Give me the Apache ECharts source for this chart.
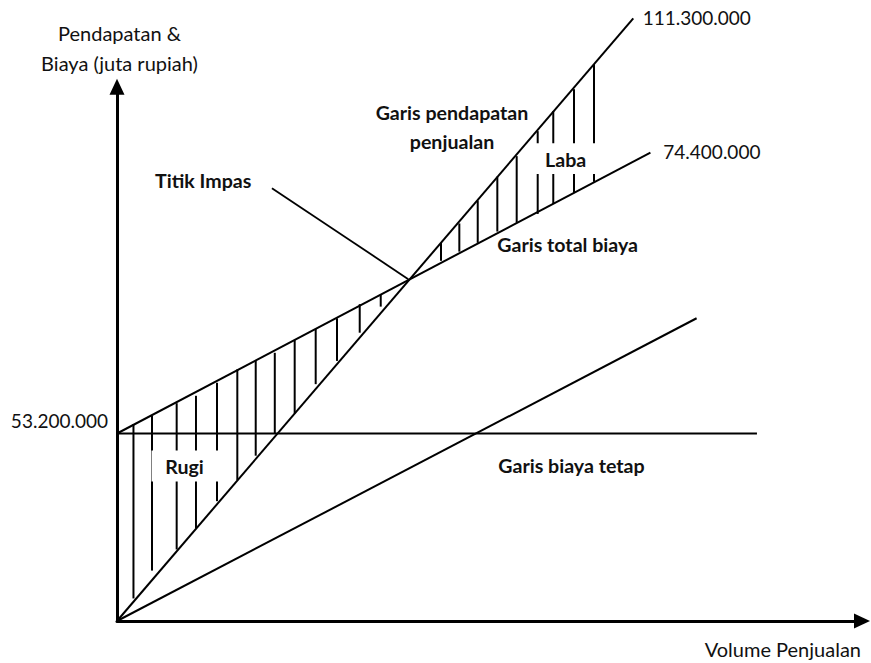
<!DOCTYPE html>
<html>
<head>
<meta charset="utf-8">
<script src="https://cdn.jsdelivr.net/npm/echarts@6/dist/echarts.min.js"></script>
<style>
  html, body { margin: 0; padding: 0; background: #fff; }
  #chart { width: 871px; height: 663px; }
</style>
</head>
<body>
<div id="chart"></div>
<script>
// ---- Data (x: volume units, y: juta rupiah) ----
const fixedCost = 53.2;
const revenueLine = [[0, 0], [69.3, 171.0]];
const totalCostLine = [[0, 53.2], [71.6, 132.9]];
const fixedCostLine = [[0, 53.2], [85.9, 53.2]];
const variableCostLine = [[0, 0], [77.8, 85.9]];
const breakEvenPointer = [[20.8, 122.8], [39.1, 97.0]];

const lossHatchX      = [2.21, 4.70, 8.01, 10.60, 13.42, 16.15, 18.62, 21.18, 23.85, 26.67, 29.53, 32.58, 35.40];
const lossHatchTop    = [55.9, 58.2, 61.8, 63.9, 67.6, 71.4, 73.8, 76.1, 79.7, 82.9, 85.9, 89.9, 92.5];
const lossHatchBottom = [6.4, 14.3, 20.3, 26.3, 34.0, 40.0, 46.9, 53.3, 58.9, 67.2, 73.8, 81.8, 89.2];

const profitHatchX      = [43.49, 45.95, 48.42, 51.05, 53.65, 56.47, 58.56, 61.34, 64.03];
const profitHatchTop    = [107.3, 112.8, 119.3, 126.1, 131.9, 139.0, 144.7, 150.9, 158.0];
const profitHatchBottom = [102.2, 104.8, 107.3, 110.5, 113.0, 115.5, 118.3, 121.5, 124.6];

const yTickValues = [53.2];
const yTickLabels = ['53.200.000'];
const revenueEndLabel = '111.300.000';
const totalCostEndLabel = '74.400.000';

const yAxisName = 'Pendapatan &\nBiaya (juta rupiah)';
const xAxisName = 'Volume Penjualan';

// ---- Chart ----
const FONT = 'Lato, "Open Sans", sans-serif';
const WORD_SIZE = 20;
const DIGIT_SIZE = 19;
const BOLD_SIZE = 19.6;
const chart = echarts.init(document.getElementById('chart'), null, { renderer: 'svg' });

function lineSeries(name, data, width) {
  return {
    name: name,
    type: 'line',
    data: data,
    clip: false,
    symbol: 'none',
    silent: true,
    lineStyle: { color: '#000', width: width || 2 },
    z: 3
  };
}

function hatchSeries(name, xs, tops, bottoms) {
  return {
    name: name,
    type: 'custom',
    clip: false,
    silent: true,
    z: 3,
    data: xs.map((x, i) => [x, tops[i], bottoms[i]]),
    encode: { x: 0, y: [1, 2] },
    renderItem: function (params, api) {
      const p1 = api.coord([api.value(0), api.value(1)]);
      const p2 = api.coord([api.value(0), api.value(2)]);
      return {
        type: 'line',
        shape: { x1: p1[0], y1: p1[1], x2: p2[0], y2: p2[1] },
        style: { stroke: '#000', lineWidth: 2 }
      };
    }
  };
}

function txt(text, x, y, opts) {
  opts = opts || {};
  return {
    type: 'text',
    x: x, y: y, z: 101,
    style: {
      text: text,
      fill: '#111',
      font: (opts.bold ? 'bold ' : '') + (opts.size || BOLD_SIZE) + 'px ' + FONT,
      align: opts.align || 'left',
      verticalAlign: 'middle',
      lineHeight: opts.lineHeight
    }
  };
}

function whiteBox(x, y, w, h) {
  return { type: 'rect', z: 100, shape: { x: x, y: y, width: w, height: h }, style: { fill: '#fff' } };
}

const option = {
  backgroundColor: '#fff',
  animation: false,
  grid: { left: 117, right: 9, top: 86.7, bottom: 42 },
  xAxis: {
    type: 'value', min: 0, max: 100,
    splitLine: { show: false },
    axisTick: { show: false },
    axisLabel: { show: false },
    axisLine: { show: true, lineStyle: { color: '#000', width: 3 }, symbol: ['none', 'triangle'], symbolSize: [15, 16] },
    name: xAxisName,
    nameLocation: 'end',
    nameGap: -1,
    nameTextStyle: { fontFamily: FONT, fontSize: WORD_SIZE, color: '#111', align: 'right', verticalAlign: 'top', padding: [18, 0, 0, 0] }
  },
  yAxis: {
    type: 'value', min: 0, max: 151.6,
    splitLine: { show: false },
    axisTick: { show: false },
    axisLabel: {
      show: true,
      customValues: yTickValues,
      formatter: function (v) {
        const i = yTickValues.indexOf(v);
        return i >= 0 ? yTickLabels[i] : '';
      },
      fontFamily: FONT, fontSize: DIGIT_SIZE, color: '#111',
      margin: 9,
      verticalAlign: 'bottom',
      padding: [0, 0, 4, 0]
    },
    axisLine: { show: true, lineStyle: { color: '#000', width: 3 }, symbol: ['none', 'triangle'], symbolSize: [15, 16] },
    name: yAxisName,
    nameLocation: 'end',
    nameGap: 8.4,
    nameTextStyle: { fontFamily: FONT, fontSize: WORD_SIZE, color: '#111', align: 'center', verticalAlign: 'bottom', lineHeight: 30, padding: [0, 0, 0, 5] }
  },
  series: [
    lineSeries('Garis pendapatan penjualan', revenueLine),
    lineSeries('Garis total biaya', totalCostLine),
    lineSeries('Garis biaya tetap', fixedCostLine),
    lineSeries('Biaya variabel', variableCostLine),
    lineSeries('Titik Impas', breakEvenPointer, 1.8),
    hatchSeries('Rugi', lossHatchX, lossHatchTop, lossHatchBottom),
    hatchSeries('Laba', profitHatchX, profitHatchTop, profitHatchBottom)
  ],
  graphic: [
    whiteBox(151.5, 450.5, 67, 31),
    whiteBox(533, 143.3, 66, 30.7),
    txt('Rugi', 184.5, 466, { bold: true, align: 'center' }),
    txt('Laba', 565.7, 159.5, { bold: true, align: 'center' }),
    txt('Titik Impas', 203.2, 180, { bold: true, align: 'center' }),
    txt('Garis pendapatan\npenjualan', 452, 127.2, { bold: true, align: 'center', lineHeight: 29 }),
    txt('Garis total biaya', 497.3, 244, { bold: true }),
    txt('Garis biaya tetap', 498.3, 465, { bold: true }),
    txt(revenueEndLabel, 642.7, 17, { size: DIGIT_SIZE }),
    txt(totalCostEndLabel, 663.3, 151.7, { size: DIGIT_SIZE })
  ]
};
chart.setOption(option);
</script>
</body>
</html>
